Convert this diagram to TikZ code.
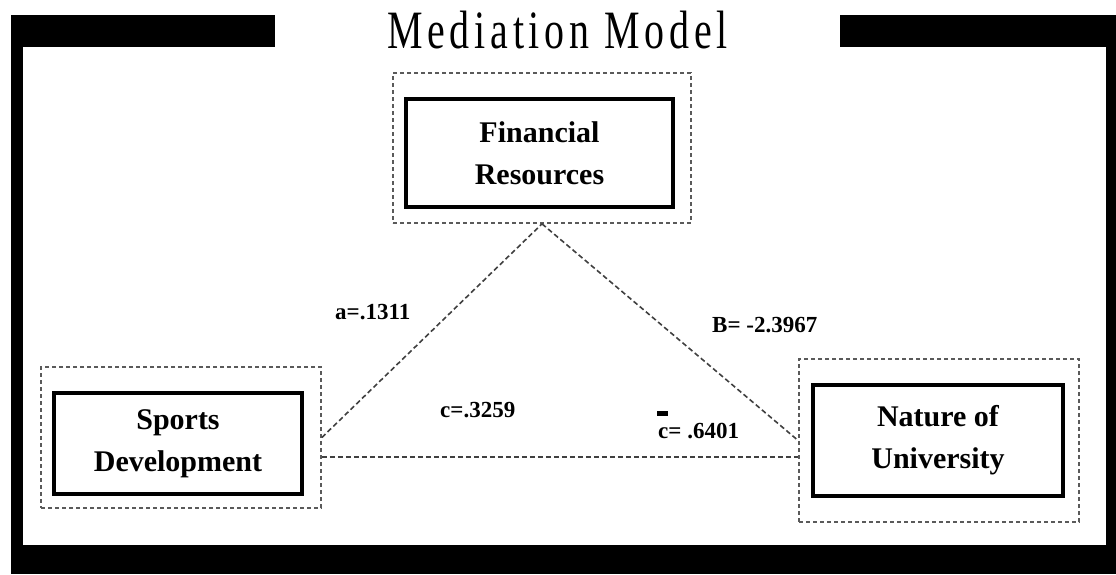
\documentclass[tikz,border=0pt]{standalone}
\usepackage{fontspec}
\setmainfont{Liberation Serif}
\newfontfamily\titlefont[LetterSpace=12]{Liberation Serif}
\usetikzlibrary{calc}
\definecolor{linegray}{HTML}{404040}
\definecolor{boxgray}{HTML}{5A5A5A}
\tikzset{
  framebar/.style={fill=black, draw=none},
  outerbox/.style={draw=boxgray, line width=1.7pt, dash pattern=on 4pt off 3pt, inner sep=0pt},
  innerbox/.style={draw=black, line width=4pt, fill=white, inner sep=0pt, align=center,
    font=\fontsize{30}{42}\selectfont\bfseries},
  connector/.style={draw=linegray, line width=1.6pt, dash pattern=on 5pt off 3pt},
  coef/.style={font=\fontsize{23}{26}\selectfont\bfseries, inner sep=0pt, anchor=base west}
}
\begin{document}
\begin{tikzpicture}[x=1pt,y=-1pt]
\useasboundingbox (0,0) rectangle (1116,574);
\fill[white] (0,0) rectangle (1116,574);
% frame
\fill[framebar] (11,15) rectangle (275,47);
\fill[framebar] (840,15) rectangle (1116,47);
\fill[framebar] (11,15) rectangle (23,574);
\fill[framebar] (1106,15) rectangle (1116,574);
\fill[framebar] (11,545) rectangle (1116,574);
% title
\node[inner sep=0pt, anchor=base] (title) at (557.5,48)
  {\scalebox{0.74}[1]{\fontsize{54}{60}\selectfont\titlefont Mediation Model}};
% outer dashed boxes
\node[outerbox, minimum width=298pt, minimum height=150pt] (fo) at (542,148) {};
\node[outerbox, minimum width=280pt, minimum height=141pt] (so) at (181,437.5) {};
\node[outerbox, minimum width=280pt, minimum height=163pt] (no) at (939,440.5) {};
% inner boxes
\node[innerbox, minimum width=267pt, minimum height=108pt] (fr) at (539.5,153) {Financial\\Resources};
\node[innerbox, minimum width=248pt, minimum height=101pt] (sd) at (178,443.5) {Sports\\Development};
\node[innerbox, minimum width=250pt, minimum height=111pt] (nu) at (938,440.5) {Nature of\\University};
% connectors
\draw[connector] (so.east) -- (fo.south);
\draw[connector] (fo.south) -- (no.west);
\draw[connector] ([yshift=-19.5pt]so.east) -- ([yshift=-19.5pt]so.east -| no.west);
% coefficients
\node[coef] (ca) at (335,319) {a=.1311};
\node[coef] (cb) at (712,332) {B= -2.3967};
\node[coef] (cc) at (440,417) {c=.3259};
\node[coef] (cp) at (658,438) {c= .6401};
\fill[black] (657,411) rectangle (668,416);
\end{tikzpicture}
\end{document}
